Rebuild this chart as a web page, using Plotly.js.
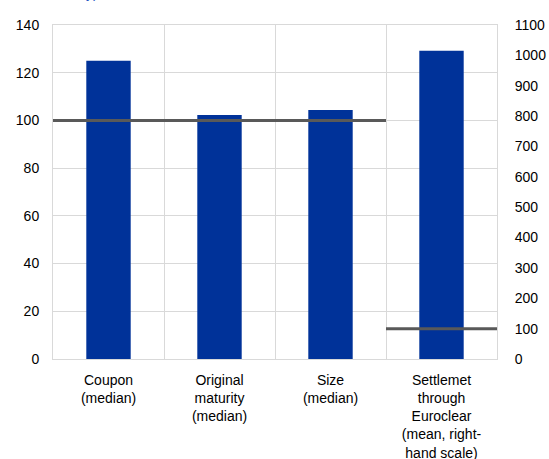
<!DOCTYPE html>
<html>
<head>
<meta charset="utf-8">
<script src="https://cdn.plot.ly/plotly-3.0.1.min.js"></script>
<style>html,body{margin:0;padding:0;background:#fff;}#chart{width:549px;height:459px;}</style>
</head>
<body>
<div id="chart"></div>
<script>
// Category labels
const categories = [
  "Coupon<br>(median)",
  "Original<br>maturity<br>(median)",
  "Size<br>(median)",
  "Settlemet<br>through<br>Euroclear<br>(mean, right-<br>hand scale)"
];
// Left-scale bars (first three categories)
const leftBarPos = [0, 1, 2];
const leftBarValues = [125, 102.3, 104.4];
// Right-scale bar (fourth category)
const rightBarPos = [3];
const rightBarValues = [1015];
// Reference lines (benchmark = 100)
const leftLineX = [-0.5, 2.5];
const leftLineY = [100, 100];
const rightLineX = [2.5, 3.5];
const rightLineY = [100, 100];
const leftTicks = [0, 20, 40, 60, 80, 100, 120, 140];
const rightTicks = [0, 100, 200, 300, 400, 500, 600, 700, 800, 900, 1000, 1100];

const blue = '#003299';
const grey = '#595959';
const grid = '#d9d9d9';
const font = {family: 'Liberation Sans, Arial, sans-serif', size: 14, color: '#000'};

const data = [
  {type: 'bar', x: leftBarPos, y: leftBarValues, width: 0.4, marker: {color: blue}, yaxis: 'y', hoverinfo: 'none'},
  {type: 'bar', x: rightBarPos, y: rightBarValues, width: 0.4, marker: {color: blue}, yaxis: 'y2', hoverinfo: 'none'},
  {type: 'scatter', mode: 'lines', x: leftLineX, y: leftLineY, line: {color: grey, width: 3}, yaxis: 'y', hoverinfo: 'none'},
  {type: 'scatter', mode: 'lines', x: rightLineX, y: rightLineY, line: {color: grey, width: 3}, yaxis: 'y2', hoverinfo: 'none'}
];

const layout = {
  width: 549, height: 459,
  margin: {l: 53, r: 52, t: 25, b: 100},
  paper_bgcolor: '#fff', plot_bgcolor: '#fff',
  showlegend: false,
  barmode: 'overlay',
  font: font,
  xaxis: {
    range: [-0.5, 3.5],
    tickmode: 'array', tickvals: [0, 1, 2, 3], ticktext: categories,
    showgrid: false, zeroline: false,
    showline: true, mirror: true, linecolor: grid, linewidth: 1,
    ticks: '', ticklabelstandoff: 8,
    minor: {tick0: 0.5, dtick: 1, showgrid: true, gridcolor: grid, gridwidth: 1, ticks: ''},
    fixedrange: true
  },
  yaxis: {
    range: [0, 140], tickmode: 'array', tickvals: leftTicks,
    showgrid: true, gridcolor: grid, gridwidth: 1, zeroline: false,
    showline: true, linecolor: grid, linewidth: 1,
    ticks: '', ticklabelstandoff: 10, fixedrange: true
  },
  yaxis2: {
    range: [0, 1100], tickmode: 'array', tickvals: rightTicks,
    overlaying: 'y', side: 'right', showgrid: false, zeroline: false,
    showline: true, linecolor: grid, linewidth: 1,
    ticks: '', ticklabelstandoff: 14, fixedrange: true
  },
  annotations: [{
    xref: 'paper', yref: 'paper', x: 0.106, y: 1.066,
    xanchor: 'right', yanchor: 'bottom', showarrow: false,
    text: 'y)', font: {family: 'Liberation Sans, Arial, sans-serif', size: 14, color: '#2255c4'}
  }]
};

Plotly.newPlot('chart', data, layout, {displayModeBar: false, staticPlot: true});
</script>
</body>
</html>
